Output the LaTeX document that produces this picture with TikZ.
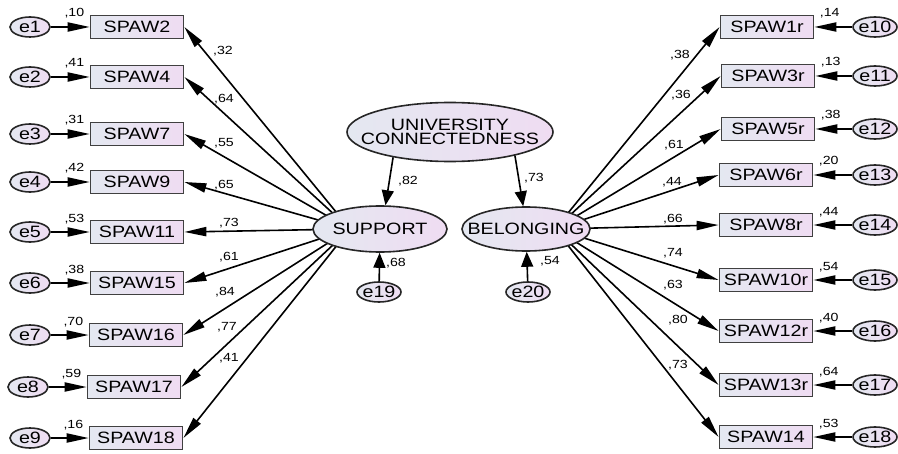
\documentclass[tikz,border=0pt]{standalone}
\usepackage{fontspec}
\setmainfont{Liberation Sans}[FakeStretch=1.2]
\usetikzlibrary{shapes.geometric, arrows.meta}
\definecolor{fillL}{RGB}{228,232,241}
\definecolor{fillR}{RGB}{239,220,242}

\begin{document}
\begin{tikzpicture}[x=0.5pt, y=-0.5pt,
        obs/.style={rectangle, draw=black!75, line width=0.9pt, left color=fillL, right color=fillR, minimum width=46.5pt, minimum height=11.5pt, inner sep=0pt, font=\fontsize{8.2}{8}\selectfont},
        lat/.style={ellipse, draw=black!85, line width=0.8pt, left color=fillL, right color=fillR, inner xsep=-12pt, inner ysep=0pt, font=\fontsize{8.2}{6.8}\selectfont},
        err/.style={lat, minimum width=20pt, minimum height=10pt},
        err2/.style={err, minimum width=22pt},
        arr/.style={-{Triangle[length=11pt, width=4.6pt]}, line width=0.8pt},
        path/.style={-{Triangle[length=7.5pt, width=6pt]}, line width=0.8pt},
        val/.style={inner sep=0pt, font=\fontsize{5.9}{6}\selectfont}]
        \useasboundingbox (0,0) rectangle (898,454);

        % Draw indicators
        \node[obs] (SPAW2) at (137,27) {SPAW2};
        \node[obs] (SPAW4) at (137,77) {SPAW4};
        \node[obs] (SPAW7) at (137,134) {SPAW7};
        \node[obs] (SPAW9) at (137,182) {SPAW9};
        \node[obs] (SPAW11) at (137,232) {SPAW11};
        \node[obs] (SPAW15) at (137,283) {SPAW15};
        \node[obs] (SPAW16) at (136,335) {SPAW16};
        \node[obs] (SPAW17) at (134,387) {SPAW17};
        \node[obs] (SPAW18) at (136,438) {SPAW18};

        \node[err] (e1) at (30,27) {e1};
        \node[err] (e2) at (30,77) {e2};
        \node[err] (e3) at (30,134) {e3};
        \node[err] (e4) at (30,182) {e4};
        \node[err] (e5) at (30,232) {e5};
        \node[err] (e6) at (30,283) {e6};
        \node[err] (e7) at (30,335) {e7};
        \node[err] (e8) at (28,387) {e8};
        \node[err] (e9) at (30,438) {e9};

        \node[obs] (SPAW1r) at (767,27) {SPAW1r};
        \node[obs] (SPAW3r) at (768,76) {SPAW3r};
        \node[obs] (SPAW5r) at (768,129) {SPAW5r};
        \node[obs] (SPAW6r) at (766,175) {SPAW6r};
        \node[obs] (SPAW8r) at (766,225) {SPAW8r};
        \node[obs] (SPAW10r) at (766,280) {SPAW10r};
        \node[obs] (SPAW12r) at (766,331) {SPAW12r};
        \node[obs] (SPAW13r) at (766,385) {SPAW13r};
        \node[obs] (SPAW14) at (766,437) {SPAW14};

        \node[err2] (e10) at (875,27) {e10};
        \node[err2] (e11) at (875,76) {e11};
        \node[err2] (e12) at (875,129) {e12};
        \node[err2] (e13) at (875,175) {e13};
        \node[err2] (e14) at (875,225) {e14};
        \node[err2] (e15) at (875,280) {e15};
        \node[err2] (e16) at (875,331) {e16};
        \node[err2] (e17) at (875,385) {e17};
        \node[err2] (e18) at (875,437) {e18};

        % Draw loadings (under the factor ellipses)
        \coordinate (SUPc) at (350,229);
        \coordinate (BELc) at (555,229);

        \draw[arr] (SUPc) -- (SPAW2.east);
        \draw[arr] (SUPc) -- (SPAW4.east);
        \draw[arr] (SUPc) -- (SPAW7.east);
        \draw[arr] (SUPc) -- (SPAW9.east);
        \draw[arr] (SUPc) -- (SPAW11.east);
        \draw[arr] (SUPc) -- (SPAW15.east);
        \draw[arr] (SUPc) -- (SPAW16.east);
        \draw[arr] (SUPc) -- (SPAW17.east);
        \draw[arr] (SUPc) -- (SPAW18.east);

        \draw[arr] (BELc) -- (SPAW1r.west);
        \draw[arr] (BELc) -- (SPAW3r.west);
        \draw[arr] (BELc) -- (SPAW5r.west);
        \draw[arr] (BELc) -- (SPAW6r.west);
        \draw[arr] (BELc) -- (SPAW8r.west);
        \draw[arr] (BELc) -- (SPAW10r.west);
        \draw[arr] (BELc) -- (SPAW12r.west);
        \draw[arr] (BELc) -- (SPAW13r.west);
        \draw[arr] (BELc) -- (SPAW14.west);

        % Draw factors
        \node[lat, minimum width=103pt, minimum height=29.5pt, align=center] (UC) at (450,132) {UNIVERSITY\\CONNECTEDNESS};
        \node[lat, minimum width=67pt, minimum height=23pt] (SUP) at (380,229) {SUPPORT};
        \node[lat, minimum width=64pt, minimum height=22pt] (BEL) at (526,229) {BELONGING};
        \node[err2] (e19) at (379,292) {e19};
        \node[err2] (e20) at (528,292) {e20};

        % Draw connections
        \draw[path] (UC.204) -- (SUP.77);
        \draw[path] (UC.340) -- (BEL.97);
        \draw[path] (e19) -- (SUP);
        \draw[path] (e20) -- (BEL);

        \draw[arr] (e1) -- (SPAW2);
        \draw[arr] (e2) -- (SPAW4);
        \draw[arr] (e3) -- (SPAW7);
        \draw[arr] (e4) -- (SPAW9);
        \draw[arr] (e5) -- (SPAW11);
        \draw[arr] (e6) -- (SPAW15);
        \draw[arr] (e7) -- (SPAW16);
        \draw[arr] (e8) -- (SPAW17);
        \draw[arr] (e9) -- (SPAW18);

        \draw[arr] (e10) -- (SPAW1r);
        \draw[arr] (e11) -- (SPAW3r);
        \draw[arr] (e12) -- (SPAW5r);
        \draw[arr] (e13) -- (SPAW6r);
        \draw[arr] (e14) -- (SPAW8r);
        \draw[arr] (e15) -- (SPAW10r);
        \draw[arr] (e16) -- (SPAW12r);
        \draw[arr] (e17) -- (SPAW13r);
        \draw[arr] (e18) -- (SPAW14);

        % Labels
        \node[val] (wSUP) at (408,181) {,82};
        \node[val] (wBEL) at (534,178) {,73};
        \node[val] (qSUP) at (396,263) {,68};
        \node[val] (qBEL) at (550,261) {,54};

        \node[val] (w2) at (223,51) {,32};
        \node[val] (w4) at (224,99) {,64};
        \node[val] (w7) at (224,143) {,55};
        \node[val] (w9) at (224,185) {,65};
        \node[val] (w11) at (229,223) {,73};
        \node[val] (w15) at (229,257) {,61};
        \node[val] (w16) at (225,292) {,84};
        \node[val] (w17) at (227,327) {,77};
        \node[val] (w18) at (229,358) {,41};

        \node[val] (w1r) at (680,55) {,38};
        \node[val] (w3r) at (681,95) {,36};
        \node[val] (w5r) at (674,145) {,61};
        \node[val] (w6r) at (672,182) {,44};
        \node[val] (w8r) at (673,219) {,66};
        \node[val] (w10r) at (673,253) {,74};
        \node[val] (w12r) at (673,285) {,63};
        \node[val] (w13r) at (678,320) {,80};
        \node[val] (w14) at (678,365) {,73};

        \node[val, anchor=base east] (q2) at ([xshift=-2.5pt, yshift=5pt]SPAW2.west) {,10};
        \node[val, anchor=base east] (q4) at ([xshift=-2.5pt, yshift=5pt]SPAW4.west) {,41};
        \node[val, anchor=base east] (q7) at ([xshift=-2.5pt, yshift=5pt]SPAW7.west) {,31};
        \node[val, anchor=base east] (q9) at ([xshift=-2.5pt, yshift=5pt]SPAW9.west) {,42};
        \node[val, anchor=base east] (q11) at ([xshift=-2.5pt, yshift=5pt]SPAW11.west) {,53};
        \node[val, anchor=base east] (q15) at ([xshift=-2.5pt, yshift=5pt]SPAW15.west) {,38};
        \node[val, anchor=base east] (q16) at ([xshift=-2.5pt, yshift=5pt]SPAW16.west) {,70};
        \node[val, anchor=base east] (q17) at ([xshift=-2.5pt, yshift=5pt]SPAW17.west) {,59};
        \node[val, anchor=base east] (q18) at ([xshift=-2.5pt, yshift=5pt]SPAW18.west) {,16};

        \node[val, anchor=base west] (q1r) at ([xshift=2.5pt, yshift=5pt]SPAW1r.east) {,14};
        \node[val, anchor=base west] (q3r) at ([xshift=2.5pt, yshift=5pt]SPAW3r.east) {,13};
        \node[val, anchor=base west] (q5r) at ([xshift=2.5pt, yshift=5pt]SPAW5r.east) {,38};
        \node[val, anchor=base west] (q6r) at ([xshift=2.5pt, yshift=5pt]SPAW6r.east) {,20};
        \node[val, anchor=base west] (q8r) at ([xshift=2.5pt, yshift=5pt]SPAW8r.east) {,44};
        \node[val, anchor=base west] (q10r) at ([xshift=2.5pt, yshift=5pt]SPAW10r.east) {,54};
        \node[val, anchor=base west] (q12r) at ([xshift=2.5pt, yshift=5pt]SPAW12r.east) {,40};
        \node[val, anchor=base west] (q13r) at ([xshift=2.5pt, yshift=5pt]SPAW13r.east) {,64};
        \node[val, anchor=base west] (q14) at ([xshift=2.5pt, yshift=5pt]SPAW14.east) {,53};
    \end{tikzpicture}
\end{document}
